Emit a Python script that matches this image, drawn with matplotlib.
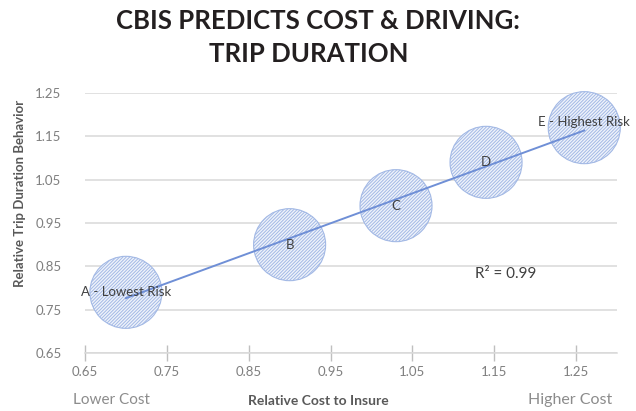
import matplotlib
matplotlib.use("Agg")
import matplotlib.pyplot as plt
import numpy as np

# Relative cost to insure vs. relative trip duration behaviour, per risk group
groups = ["A - Lowest Risk", "B", "C", "D", "E - Highest Risk"]
cost = [0.70, 0.90, 1.03, 1.14, 1.26]
duration = [0.79, 0.90, 0.99, 1.09, 1.17]
x_ticks = [0.65, 0.75, 0.85, 0.95, 1.05, 1.15, 1.25]
y_ticks = [0.65, 0.75, 0.85, 0.95, 1.05, 1.15, 1.25]
r_squared_text = "R² = 0.99"

plt.rcParams["font.family"] = ["Lato", "DejaVu Sans"]
plt.rcParams["hatch.linewidth"] = 0.7

fig = plt.figure(figsize=(6.36, 4.11), dpi=100)
ax = fig.add_axes([85 / 636, 1 - 353 / 411, 532 / 636, 260 / 411])

ax.set_xlim(0.65, 1.30)
ax.set_ylim(0.65, 1.25)

grid_col = "#d9d9d9"
ax.set_yticks(y_ticks)
ax.set_xticks(x_ticks)
ax.set_yticklabels([f"{v:.2f}" for v in y_ticks])
ax.set_xticklabels([f"{v:.2f}" for v in x_ticks])
ax.yaxis.grid(True, color=grid_col, linewidth=1.1)
ax.set_axisbelow(True)
for s in ["top", "right", "left"]:
    ax.spines[s].set_visible(False)
ax.spines["bottom"].set_color(grid_col)
ax.spines["bottom"].set_linewidth(1.1)
ax.tick_params(axis="y", length=0, pad=17, labelsize=9.5, labelcolor="#7f7f7f")
ax.tick_params(axis="x", direction="inout", length=11, width=1.0, color="#bfbfbf",
               pad=4, labelsize=9.5, labelcolor="#7f7f7f")

# bubbles
ax.scatter(cost, duration, s=2690, facecolor="#eff3fb", edgecolor="#a3b9e5",
           hatch="//////////", linewidth=0.8, zorder=3, clip_on=False)

# linear trendline
coef = np.polyfit(cost, duration, 1)
xs = np.array([min(cost), max(cost)])
ax.plot(xs, np.polyval(coef, xs), color="#6f8fd6", linewidth=1.4, zorder=4)

# group labels
for i, (g, xv, yv) in enumerate(zip(groups, cost, duration)):
    dy = 4 if i == len(groups) - 1 else 0
    ax.annotate(g, (xv, yv), xytext=(0, dy), textcoords="offset points",
                ha="center", va="center", fontsize=9.5, color="#404040",
                zorder=5, annotation_clip=False)

ax.text(475 / 636, 1 - 274 / 411, r_squared_text, transform=fig.transFigure,
        fontsize=11, color="#404040", ha="left", va="center")

# title
fig.text(318 / 636, 1 - 21 / 411, "CBIS PREDICTS COST & DRIVING:", ha="center",
         va="center", fontsize=18.5, fontweight="bold", color="#231f20")
fig.text(309 / 636, 1 - 54 / 411, "TRIP DURATION", ha="center", va="center",
         fontsize=18.5, fontweight="bold", color="#231f20")

# axis titles
fig.text(20 / 636, 1 - 193 / 411, "Relative Trip Duration Behavior", rotation=90,
         ha="center", va="center", fontsize=9.5, fontweight="bold", color="#595959")
fig.text(318 / 636, 1 - 401 / 411, "Relative Cost to Insure", ha="center",
         va="center", fontsize=10, fontweight="bold", color="#595959")
fig.text(111 / 636, 1 - 400 / 411, "Lower Cost", ha="center", va="center",
         fontsize=11, color="#8c8c8c")
fig.text(570 / 636, 1 - 400 / 411, "Higher Cost", ha="center", va="center",
         fontsize=11.5, color="#8c8c8c")

fig.savefig("out.png", dpi=100, facecolor="white")
